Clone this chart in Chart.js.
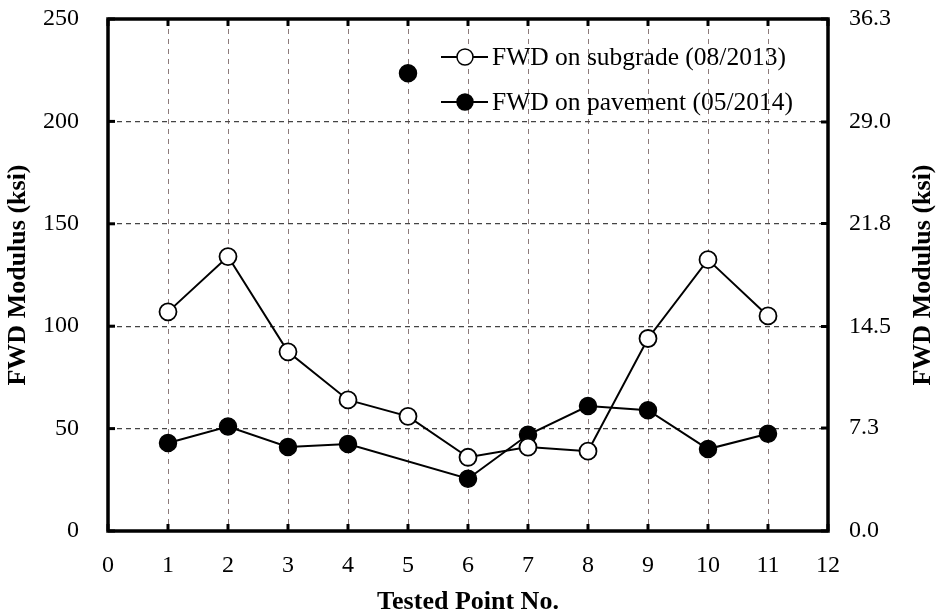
<!DOCTYPE html>
<html>
<head>
<meta charset="utf-8">
<script src="https://cdn.jsdelivr.net/npm/chart.js@4.4.0/dist/chart.umd.min.js"></script>
<style>
  html, body { margin: 0; padding: 0; background: #fff; }
  #wrap { width: 943px; height: 615px; }
</style>
</head>
<body>
<div id="wrap"><canvas id="fwd"></canvas></div>
<script>
// tested points and FWD modulus (ksi)
const points = [1, 2, 3, 4, 5, 6, 7, 8, 9, 10, 11];
const subgrade = [107, 134, 87.5, 64, 56, 36, 41, 39, 94, 132.5, 105];
const pavement = [43, 51, 41, 42.5, null, 25.5, 47, 61, 59, 40, 47.5];
// point 5 on pavement is shown but not joined to the line
const pavementPoint5 = 223.5;
const rightTicks = [0, 7.3, 14.5, 21.8, 29.0, 36.3];
const legendLabels = ["FWD on subgrade (08/2013)", "FWD on pavement (05/2014)"];
const axisTitle = "FWD Modulus (ksi)";

const serif = "'Liberation Serif', 'Times New Roman', serif";
const tickFont = { family: serif, size: 24 };
const titleFont = { family: serif, size: 26, weight: "bold" };

// keep tick labels from pushing the plot area around
function noPad(s) {
  s.paddingTop = 0;
  s.paddingBottom = 0;
  s.paddingLeft = 0;
  s.paddingRight = 0;
}

// frame, inward ticks, legend and right title
const decor = {
  id: "decor",
  afterDraw(chart) {
    const { ctx, chartArea: a, scales } = chart;
    const seg = (x1, y1, x2, y2) => {
      ctx.beginPath();
      ctx.moveTo(x1, y1);
      ctx.lineTo(x2, y2);
      ctx.stroke();
    };
    ctx.save();
    ctx.strokeStyle = "#000";
    ctx.lineWidth = 3;
    scales.x.ticks.forEach((t) => {
      const px = scales.x.getPixelForValue(t.value);
      seg(px, a.bottom, px, a.bottom - 7);
      seg(px, a.top, px, a.top + 7);
    });
    scales.y.ticks.forEach((t) => {
      const py = scales.y.getPixelForValue(t.value);
      seg(a.left, py, a.left + 7, py);
    });
    scales.y2.ticks.forEach((t) => {
      const py = scales.y2.getPixelForValue(t.value);
      seg(a.right, py, a.right - 7, py);
    });
    ctx.lineWidth = 3.5;
    ctx.strokeRect(a.left, a.top, a.right - a.left, a.bottom - a.top);

    // legend inside the plot
    const lx = 441, ly = [57, 102];
    ctx.lineWidth = 2;
    ctx.font = "25.5px " + serif;
    ctx.textBaseline = "middle";
    ctx.fillStyle = "#000";
    legendLabels.forEach((txt, i) => {
      seg(lx, ly[i], lx + 47, ly[i]);
      ctx.beginPath();
      ctx.arc(lx + 24, ly[i], 8, 0, Math.PI * 2);
      ctx.fillStyle = i === 0 ? "#fff" : "#000";
      ctx.fill();
      ctx.lineWidth = 1.5;
      ctx.stroke();
      ctx.lineWidth = 2;
      ctx.fillStyle = "#000";
      ctx.fillText(txt, lx + 51, ly[i] + 1);
    });

    // right axis title, reading bottom to top like the left one
    ctx.font = "bold 26px " + serif;
    ctx.textAlign = "center";
    ctx.translate(923, (a.top + a.bottom) / 2);
    ctx.rotate(-Math.PI / 2);
    ctx.fillText(axisTitle, 0, 0);
    ctx.restore();
  },
};

new Chart(document.getElementById("fwd"), {
  type: "line",
  data: {
    datasets: [
      {
        label: legendLabels[0],
        data: points.map((p, i) => ({ x: p, y: subgrade[i] })),
        borderColor: "#000",
        borderWidth: 2,
        pointRadius: 8.5,
        pointBorderWidth: 1.8,
        pointBackgroundColor: "#fff",
        pointBorderColor: "#000",
        tension: 0,
      },
      {
        label: legendLabels[1],
        data: points.map((p, i) => ({ x: p, y: pavement[i] })),
        borderColor: "#000",
        borderWidth: 2,
        pointRadius: 8.5,
        pointBorderWidth: 1.5,
        pointBackgroundColor: "#000",
        pointBorderColor: "#000",
        spanGaps: true,
        tension: 0,
      },
      {
        label: "outlier",
        data: [{ x: 5, y: pavementPoint5 }],
        showLine: false,
        pointRadius: 8.5,
        pointBorderWidth: 1.5,
        pointBackgroundColor: "#000",
        pointBorderColor: "#000",
      },
    ],
  },
  options: {
    responsive: true,
    maintainAspectRatio: false,
    animation: false,
    layout: { padding: { top: 19 } },
    plugins: { legend: { display: false }, tooltip: { enabled: false } },
    scales: {
      x: {
        type: "linear",
        min: 0,
        max: 12,
        ticks: { stepSize: 1, padding: 20, font: tickFont, color: "#000" },
        grid: { color: "rgba(120,100,100,0.85)", lineWidth: 1, drawTicks: false },
        border: { display: false, dash: [5, 5] },
        title: { display: true, text: "Tested Point No.", font: titleFont, color: "#000", padding: { top: 0, bottom: -3 } },
        afterFit(s) { s.height = 84; noPad(s); },
      },
      y: {
        position: "left",
        min: 0,
        max: 250,
        ticks: { stepSize: 50, padding: 29, font: tickFont, color: "#000" },
        grid: { color: "#444", lineWidth: 1.2, drawTicks: false },
        border: { display: false, dash: [5, 4] },
        title: { display: true, text: axisTitle, font: titleFont, color: "#000", padding: { top: 3, bottom: 0 } },
        afterFit(s) { s.width = 108; noPad(s); },
      },
      y2: {
        position: "right",
        min: 0,
        max: 36.3,
        afterBuildTicks(s) { s.ticks = rightTicks.map((v) => ({ value: v })); },
        ticks: { padding: 21, font: tickFont, color: "#000", callback: (v) => v.toFixed(1) },
        grid: { display: false, drawTicks: false },
        border: { display: false },
        afterFit(s) { s.width = 115; noPad(s); },
      },
    },
  },
  plugins: [decor],
});
</script>
</body>
</html>
